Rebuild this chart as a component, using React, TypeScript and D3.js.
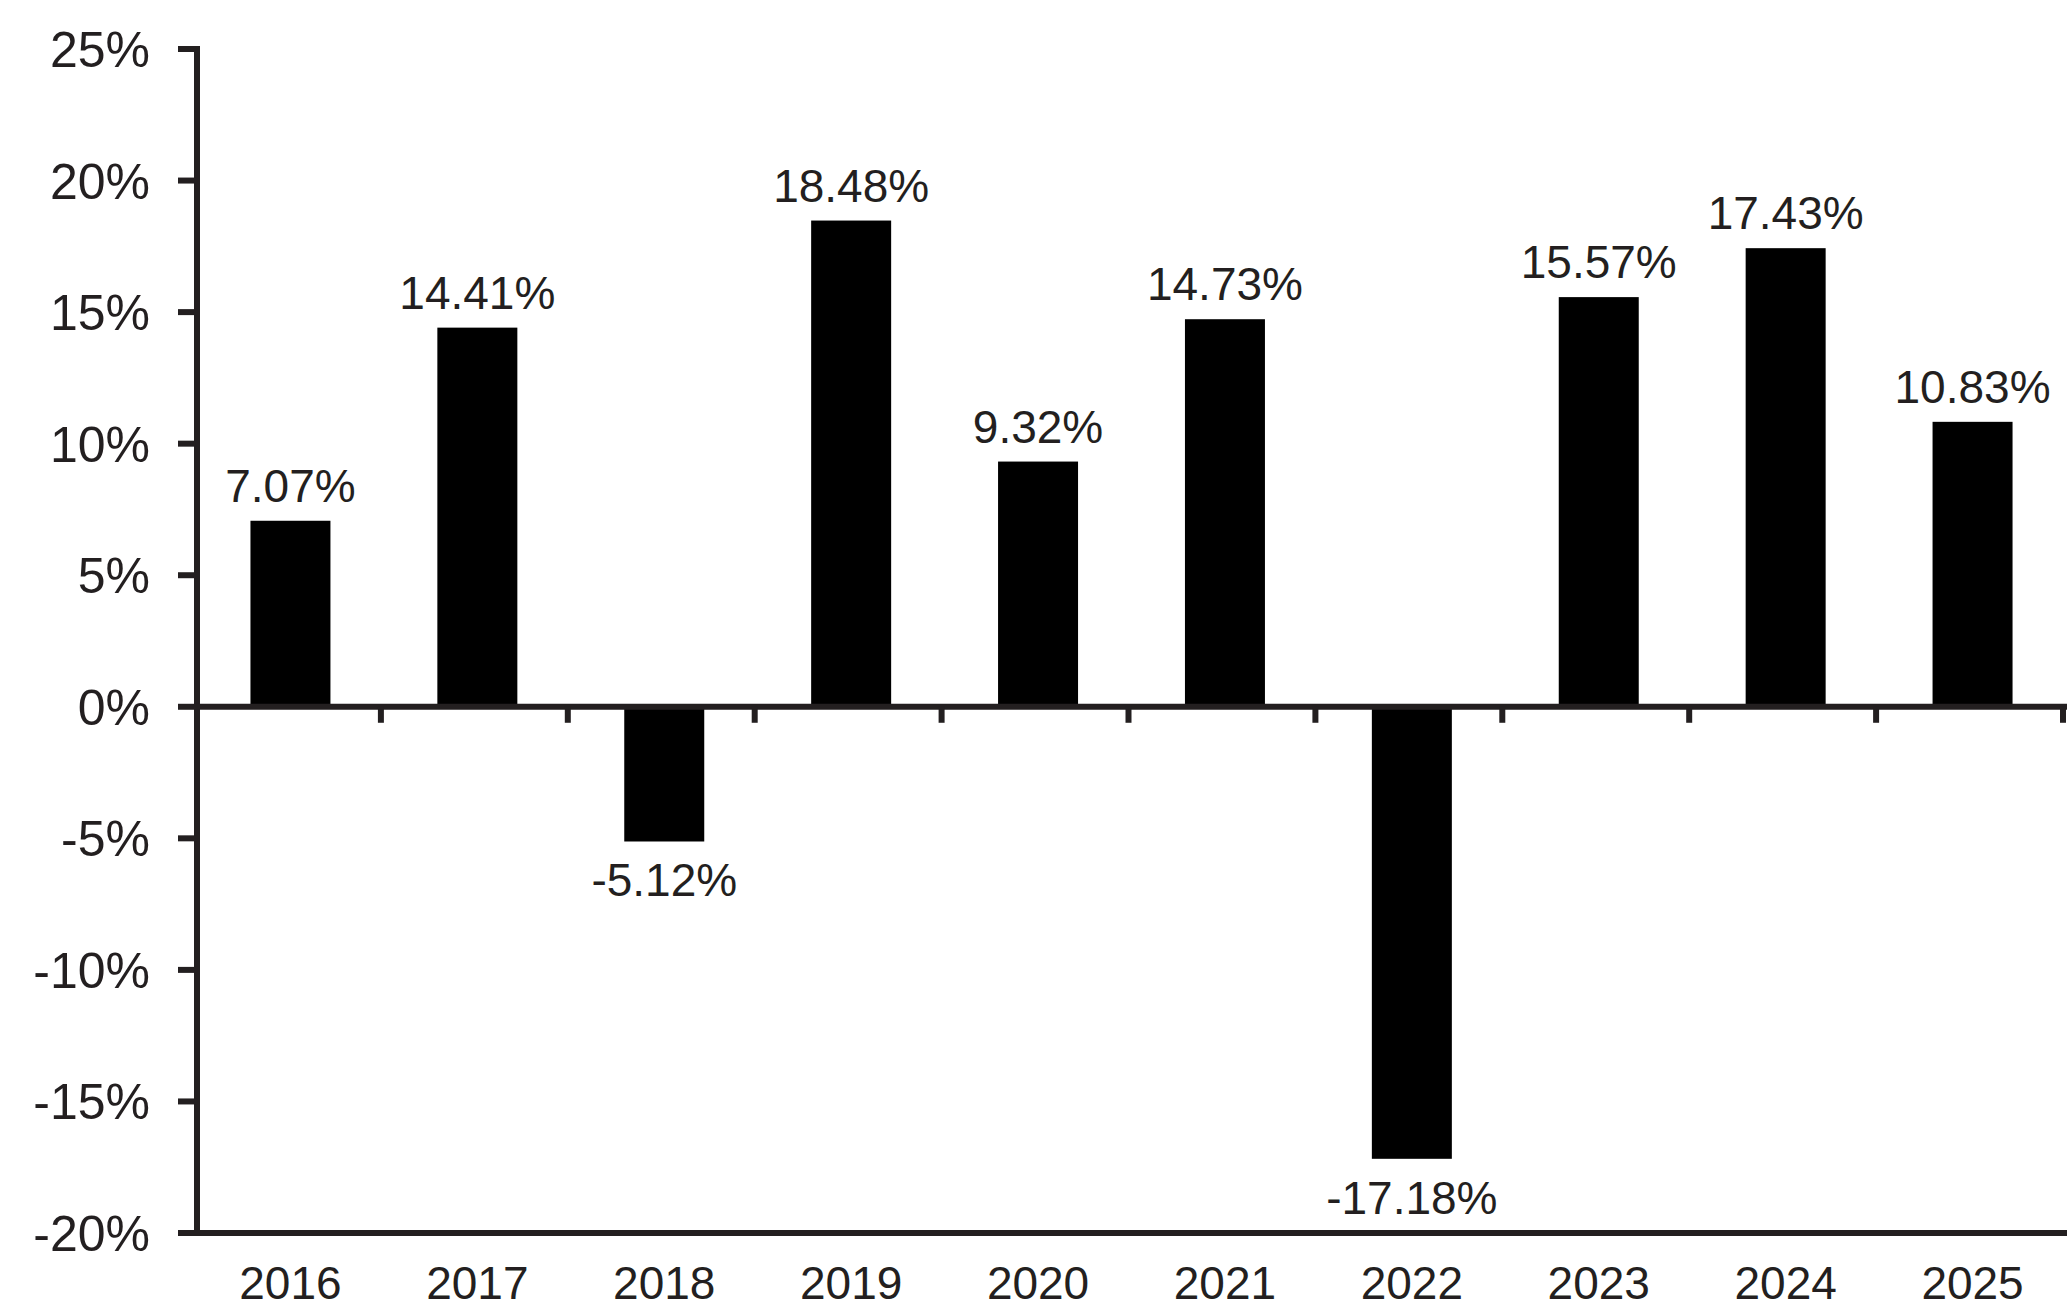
import React from "react";
import * as d3 from "d3";

const years = ["2016", "2017", "2018", "2019", "2020", "2021", "2022", "2023", "2024", "2025"];
const returns = [7.07, 14.41, -5.12, 18.48, 9.32, 14.73, -17.18, 15.57, 17.43, 10.83];
const yTicks = [25, 20, 15, 10, 5, 0, -5, -10, -15, -20];

const W = 2067;
const H = 1308;
const AX = "#231f20";
const FONT = "'Liberation Sans', Arial, sans-serif";

export default function App() {
  const x = d3
    .scaleBand<string>()
    .domain(years)
    .range([197, 2066])
    .paddingInner(0.572)
    .paddingOuter(0.286);
  const y = d3.scaleLinear().domain([-20, 25]).range([1233, 49]);
  const step = x.step();
  const x0 = 197;

  return (
    <svg
      width={W}
      height={H}
      style={{ position: "absolute", left: 0, top: 0, background: "#fff" }}
      fontFamily={FONT}
    >
      {years.map((yr, i) => {
        const v = returns[i];
        const top = y(Math.max(0, v));
        const bot = y(Math.min(0, v));
        return (
          <rect key={yr} x={x(yr)} y={top} width={x.bandwidth()} height={bot - top} fill="#000" />
        );
      })}
      {years.map((yr, i) => {
        const v = returns[i];
        const cx = (x(yr) as number) + x.bandwidth() / 2;
        const ty = v >= 0 ? y(v) - 19 : y(v) + 55;
        return (
          <text key={"l" + yr} x={cx} y={ty} textAnchor="middle" fontSize={46} fill={AX}>
            {v.toFixed(2) + "%"}
          </text>
        );
      })}
      <line x1={x0} x2={x0} y1={y(25) - 3} y2={y(-20) + 3} stroke={AX} strokeWidth={6} />
      {yTicks.map((t) => (
        <g key={"t" + t}>
          <line x1={178} x2={x0} y1={y(t)} y2={y(t)} stroke={AX} strokeWidth={6} />
          <text x={150} y={y(t) + 18} textAnchor="end" fontSize={50} fill={AX}>
            {t + "%"}
          </text>
        </g>
      ))}
      <line x1={x0} x2={W} y1={y(0)} y2={y(0)} stroke={AX} strokeWidth={6} />
      {years.map((yr, i) => {
        const tx = x0 + step * (i + 1) - 3;
        return <line key={"xt" + yr} x1={tx} x2={tx} y1={y(0)} y2={y(0) + 16} stroke={AX} strokeWidth={6} />;
      })}
      <line x1={x0 - 3} x2={W} y1={y(-20)} y2={y(-20)} stroke={AX} strokeWidth={6} />
      {years.map((yr) => (
        <text
          key={"y" + yr}
          x={(x(yr) as number) + x.bandwidth() / 2}
          y={1299}
          textAnchor="middle"
          fontSize={46}
          fill={AX}
        >
          {yr}
        </text>
      ))}
    </svg>
  );
}
